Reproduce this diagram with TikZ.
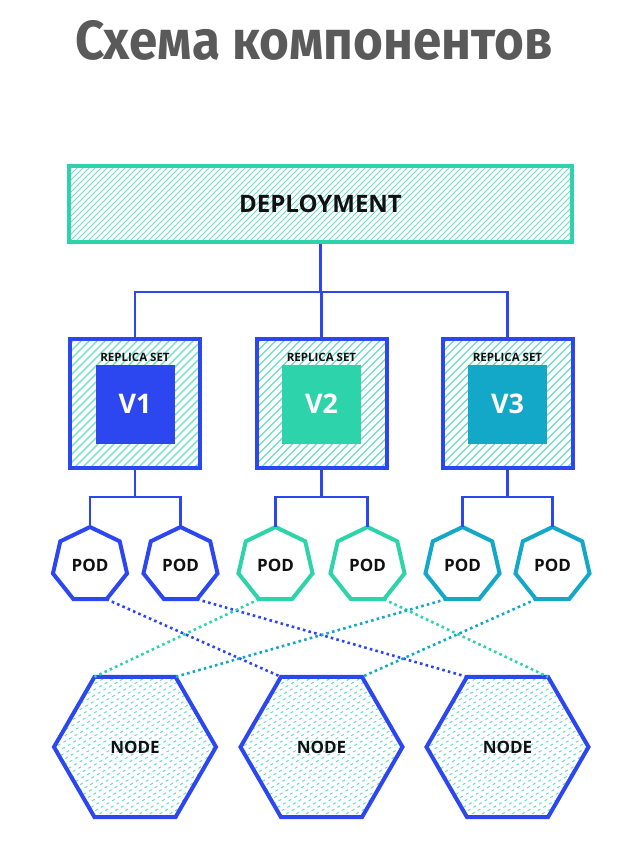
\documentclass[tikz,border=0pt]{standalone}
\usepackage{fontspec}
\setmainfont{Open Sans}
\newfontfamily\titlefont{Fira Sans}
\usetikzlibrary{shapes.geometric,calc}
\definecolor{blueC}{HTML}{2C46F0}
\definecolor{tealC}{HTML}{2DD3AA}
\definecolor{cyanC}{HTML}{14A8C8}
\definecolor{hatchC}{HTML}{6ADCC4}
\definecolor{titleC}{HTML}{5A5A5A}
\definecolor{txtC}{HTML}{111111}
\begin{document}
\begin{tikzpicture}[x=1pt,y=-1pt,
  hatchthin/.style={path picture={
    \foreach \k in {0,...,100}{
      \draw[hatchC,line width=0.9pt] ([xshift=\k*6pt-90pt]path picture bounding box.south west) -- ++(100pt,100pt);
    }}},
  hatchwide/.style={path picture={
    \foreach \k in {0,...,36}{
      \draw[hatchC,line width=1.3pt] ([xshift=\k*8pt-140pt]path picture bounding box.south west) -- ++(150pt,150pt);
    }}},
  hatchdash/.style={path picture={
    \foreach \k in {0,...,44}{
      \draw[hatchC,line width=1pt,dash pattern=on 3pt off 3.5pt] ([xshift=\k*10pt-260pt]path picture bounding box.south west) -- ++(280pt,162pt);
    }}},
  depbox/.style={draw=tealC,line width=4pt,minimum width=503pt,minimum height=76pt,inner sep=0pt,hatchthin,
    font=\fontsize{24}{26}\selectfont\bfseries,text=txtC},
  rsbox/.style={draw=blueC,line width=4pt,minimum width=130pt,minimum height=129pt,inner sep=0pt,hatchwide},
  rslabel/.style={font=\fontsize{11.5}{13}\selectfont\bfseries,text=txtC,inner sep=0pt},
  vbox/.style={fill=#1,minimum width=79pt,minimum height=79pt,inner sep=0pt,text=white,
    font=\fontsize{27}{30}\selectfont\bfseries},
  podshape/.style={regular polygon,regular polygon sides=7,minimum size=76pt,inner sep=0pt,outer sep=0pt,
    draw=#1,line width=4pt,fill=white,font=\fontsize{17}{19}\selectfont\bfseries,text=txtC},
  nodeshape/.style={regular polygon,regular polygon sides=6,minimum size=162pt,
    inner sep=0pt,outer sep=0pt,draw=blueC,line width=4pt,hatchdash,
    font=\fontsize{17}{19}\selectfont\bfseries,text=txtC},
  wire/.style={draw=blueC,line width=2.6pt},
  dots/.style={draw=#1,line width=2.6pt,dash pattern=on 2.6pt off 3.2pt},
]
\useasboundingbox (0,0) rectangle (641,853);

% title
\node[anchor=base,xscale=0.93,font=\titlefont\fontsize{55}{60}\selectfont\bfseries,text=titleC,inner sep=0pt] (title) at (314,60) {Схема компонентов};

% deployment
\node[depbox] (dep) at (320.5,204) {DEPLOYMENT};

% replica sets
\node[rsbox] (rs1) at (135,403.5) {};
\node[rsbox] (rs2) at (321.5,403.5) {};
\node[rsbox] (rs3) at (507.5,403.5) {};
\node[rslabel] (rl1) at (135,357) {REPLICA SET};
\node[rslabel] (rl2) at (321.5,357) {REPLICA SET};
\node[rslabel] (rl3) at (507.5,357) {REPLICA SET};
\node[vbox=blueC] (v1) at (135,404) {V1};
\node[vbox=tealC] (v2) at (321.5,404) {V2};
\node[vbox=cyanC] (v3) at (507.5,404) {V3};

% connectors deployment -> replica sets
\coordinate (bus) at (320.5,292);
\draw[wire] (dep.south) -- (bus);
\draw[wire] (bus) -| (rs1.north);
\draw[wire] (bus) -| (rs3.north);
\draw[wire] (bus) -| (rs2.north);

% pods
\node[podshape=blueC] (pod1) at (90,565) {POD};
\node[podshape=blueC] (pod2) at (180.5,565) {POD};
\node[podshape=tealC] (pod3) at (275.5,565) {POD};
\node[podshape=tealC] (pod4) at (367.5,565) {POD};
\node[podshape=cyanC] (pod5) at (462.5,565) {POD};
\node[podshape=cyanC] (pod6) at (552.5,565) {POD};

\coordinate (b1) at (135,497);
\coordinate (b2) at (321.5,497);
\coordinate (b3) at (507.5,497);
\draw[wire] (rs1.south) -- (b1);
\draw[wire] (rs2.south) -- (b2);
\draw[wire] (rs3.south) -- (b3);
\draw[wire] (b1) -| (pod1.corner 1);
\draw[wire] (b1) -| (pod2.corner 1);
\draw[wire] (b2) -| (pod3.corner 1);
\draw[wire] (b2) -| (pod4.corner 1);
\draw[wire] (b3) -| (pod5.corner 1);
\draw[wire] (b3) -| (pod6.corner 1);

% nodes
\node[nodeshape] (n1) at (135,747) {NODE};
\node[nodeshape] (n2) at (321.5,747) {NODE};
\node[nodeshape] (n3) at (507.5,747) {NODE};

% dotted links (corner 2 = top-left, corner 1 = top-right)
\draw[dots=blueC] (pod1.corner 5) -- (n2.corner 2);
\draw[dots=blueC] (pod2.corner 5) -- (n3.corner 2);
\draw[dots=tealC] (pod3.corner 4) -- (n1.corner 2);
\draw[dots=tealC] (pod4.corner 5) -- (n3.corner 1);
\draw[dots=cyanC] (pod5.corner 4) -- (n1.corner 1);
\draw[dots=cyanC] (pod6.corner 4) -- (n2.corner 1);
\end{tikzpicture}
\end{document}
